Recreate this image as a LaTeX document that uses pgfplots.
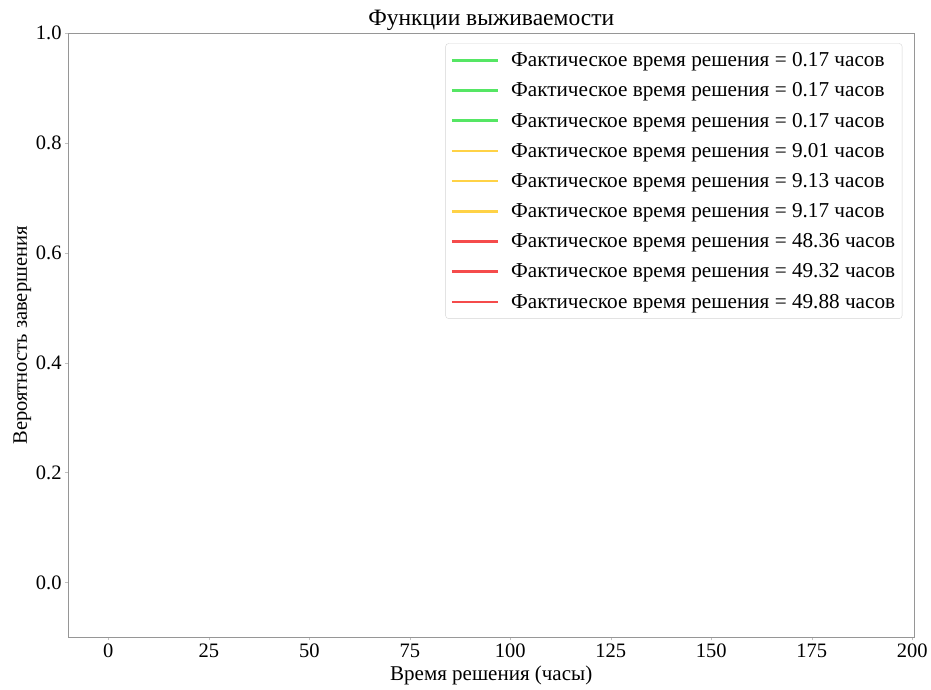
\documentclass[border=0pt]{standalone}
\usepackage{pgfplots}
\pgfplotsset{compat=1.18}
\usepackage{fontspec}
\setmainfont{Liberation Serif}
\definecolor{cgreen}{RGB}{85,230,100}
\definecolor{cgold}{RGB}{255,210,70}
\definecolor{cred}{RGB}{245,75,75}
\definecolor{spine}{RGB}{150,150,150}
\begin{document}
\begin{tikzpicture}
\begin{axis}[
  scale only axis,
  width=846pt, height=604pt,
  xmin=-10, xmax=200.5, ymin=-0.1, ymax=1.0,
  xtick={0,25,...,200},
  ytick={0,0.2,0.4,0.6,0.8,1.0},
  yticklabel style={/pgf/number format/.cd,fixed,fixed zerofill,precision=1},
  /pgf/number format/assume math mode=true,
  tick label style={font=\fontsize{20.5}{24}\selectfont},
  tick align=outside, major tick length=3pt,
  tick style={spine!60, line width=0.6pt},
  axis line style={spine, line width=0.8pt},
  xtick pos=bottom, ytick pos=left,
  title={Функции выживаемости},
  title style={font=\fontsize{23.5}{27}\selectfont, yshift=-7pt},
  xlabel={Время решения (часы)},
  ylabel={Вероятность завершения},
  xlabel style={font=\fontsize{21}{24}\selectfont, yshift=-1pt},
  ylabel style={font=\fontsize{20.5}{24}\selectfont, yshift=-2pt},
  legend style={at={(1,1)}, anchor=north east, xshift=-12pt, yshift=-10pt,
    font=\fontsize{21.2}{24}\selectfont, draw=spine!40, rounded corners=3pt,
    row sep=10.6pt, column sep=10pt, inner xsep=5pt, inner ysep=7pt},
  legend cell align=left,
  legend image code/.code={\draw[#1, line width=2.5pt] (0pt,0pt) -- (46pt,0pt);},
]
\addlegendimage{cgreen}
\addlegendentry{Фактическое время решения = 0.17 часов}
\addlegendimage{cgreen}
\addlegendentry{Фактическое время решения = 0.17 часов}
\addlegendimage{cgreen}
\addlegendentry{Фактическое время решения = 0.17 часов}
\addlegendimage{cgold}
\addlegendentry{Фактическое время решения = 9.01 часов}
\addlegendimage{cgold}
\addlegendentry{Фактическое время решения = 9.13 часов}
\addlegendimage{cgold}
\addlegendentry{Фактическое время решения = 9.17 часов}
\addlegendimage{cred}
\addlegendentry{Фактическое время решения = 48.36 часов}
\addlegendimage{cred}
\addlegendentry{Фактическое время решения = 49.32 часов}
\addlegendimage{cred}
\addlegendentry{Фактическое время решения = 49.88 часов}
\end{axis}
\path (current bounding box.west) ++(-10pt,0pt);
\path (current bounding box.north) ++(0pt,7pt);
\path (current bounding box.south) ++(0pt,-1pt);
\end{tikzpicture}
\end{document}
